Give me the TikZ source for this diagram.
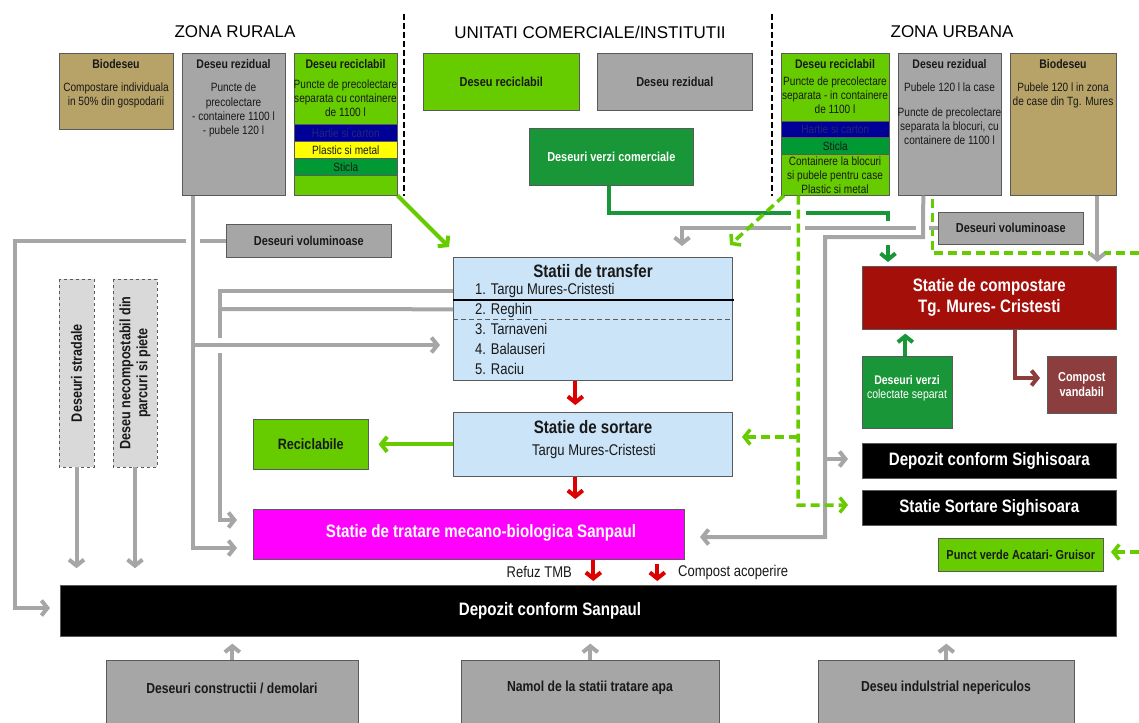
\documentclass[tikz,border=0pt]{standalone}
\usepackage{fontspec}
\setmainfont{Liberation Sans}[FakeStretch=0.84]
\newfontfamily\zonefont{Liberation Sans}
\usetikzlibrary{arrows.meta}

\definecolor{tanbox}{RGB}{183,162,104}
\definecolor{graybox}{RGB}{166,166,166}
\definecolor{limebox}{RGB}{102,204,0}
\definecolor{leafbox}{RGB}{25,150,55}
\definecolor{navyband}{RGB}{0,0,153}
\definecolor{navytext}{RGB}{35,40,110}
\definecolor{yellowband}{RGB}{255,255,0}
\definecolor{glassband}{RGB}{0,153,51}
\definecolor{skybox}{RGB}{204,228,247}
\definecolor{tmbpink}{RGB}{255,0,255}
\definecolor{compostred}{RGB}{165,15,10}
\definecolor{soilbrown}{RGB}{140,62,62}
\definecolor{flowred}{RGB}{220,0,0}
\definecolor{flowgray}{RGB}{166,166,166}
\definecolor{streetgray}{RGB}{217,217,217}
\definecolor{edgegray}{RGB}{90,90,90}
\definecolor{inkdark}{RGB}{25,25,25}

\tikzset{
  box/.style={draw=edgegray, line width=0.6pt, inner sep=0pt, anchor=north west},
  zone/.style={font=\zonefont\fontsize{17}{20}\selectfont, inner sep=0pt},
  head/.style={font=\fontsize{12.5}{14}\selectfont\bfseries, text=inkdark, inner sep=0pt},
  body/.style={font=\fontsize{12}{13.6}\selectfont, text=inkdark, align=center, inner sep=0pt, anchor=north},
  band/.style={box, minimum height=17pt, font=\fontsize{12}{13.6}\selectfont, text=inkdark},
  tag/.style={font=\fontsize{13}{15}\selectfont\bfseries, text=inkdark, align=center, inner sep=0pt},
  title/.style={font=\fontsize{18}{21}\selectfont\bfseries, text=inkdark, align=center, inner sep=0pt},
  item/.style={font=\fontsize{15.5}{18}\selectfont, text=inkdark, anchor=west, inner sep=0pt, text height=11pt, text depth=3pt},
  note/.style={font=\fontsize{15.5}{18}\selectfont, text=inkdark, inner sep=0pt},
  foot/.style={font=\fontsize{14.5}{17}\selectfont\bfseries, text=inkdark, inner sep=0pt},
  street/.style={draw=edgegray, dashed, fill=streetgray, rotate=90, inner sep=0pt, align=center, font=\fontsize{15}{17}\selectfont\bfseries, text=inkdark},
  sepline/.style={draw=black, line width=1.5pt, dash pattern=on 6pt off 3pt},
  grayline/.style={draw=flowgray, line width=4pt},
  grayflow/.style={grayline, -{Straight Barb[length=6pt,width=15pt]}},
  limeflow/.style={draw=limebox, line width=4pt, -{Straight Barb[length=6pt,width=15pt]}},
  limedash/.style={draw=limebox, line width=3.5pt, dash pattern=on 9pt off 5pt},
  limedashflow/.style={limedash, -{Straight Barb[length=6pt,width=15pt]}},
  leafflow/.style={draw=leafbox, line width=4pt, -{Straight Barb[length=6pt,width=15pt]}},
  soilflow/.style={draw=soilbrown, line width=4pt, -{Straight Barb[length=6pt,width=15pt]}},
  redflow/.style={draw=flowred, line width=4pt, -{Straight Barb[length=6pt,width=15pt]}},
  bridge/.style={draw=white, line width=6.5pt}
}

\begin{document}
\begin{tikzpicture}[x=1pt,y=-1pt]
			%%%%% START %%%%%
			\useasboundingbox (0,0) rectangle (1139,722);
			\clip (0,0) rectangle (1139,722);
			
			\node[zone] (zoneRural) at (235,32) {ZONA RURALA};
			\node[zone] (zoneComm) at (590,32) {UNITATI COMERCIALE/INSTITUTII};
			\node[zone] (zoneUrban) at (952,32) {ZONA URBANA};
			\draw[sepline] (404,14) -- (404,196);
			\draw[sepline] (772,14) -- (772,196);
			
			%%%%% RURAL %%%%%
			\node[box, fill=tanbox, minimum width=114pt, minimum height=76pt] (ruralBio) at (59,53) {};
			\node[head] (ruralBioH) at (116,64) {Biodeseu};
			\node[body] (ruralBioT) at (116,83) {Compostare individuala\\in 50\% din gospodarii};
			
			\node[box, fill=graybox, minimum width=103pt, minimum height=142pt] (ruralRez) at (182,53) {};
			\node[head] (ruralRezH) at (233.5,64) {Deseu rezidual};
			\node[body, font=\fontsize{12}{14.2}\selectfont] (ruralRezT) at (233.5,83) {Puncte de\\precolectare\\- containere 1100 l\\- pubele 120 l};
			
			\node[box, fill=limebox, minimum width=103pt, minimum height=142pt] (ruralRec) at (294,53) {};
			\node[head] (ruralRecH) at (345.5,64) {Deseu reciclabil};
			\node[body] (ruralRecT) at (345.5,80) {Puncte de precolectare\\separata cu containere\\de 1100 l};
			\node[band, minimum width=103pt, fill=navyband, text=navytext] (ruralPaper) at (294,124) {Hartie si carton};
			\node[band, minimum width=103pt, fill=yellowband] (ruralPlastic) at (294,141) {Plastic si metal};
			\node[band, minimum width=103pt, fill=glassband] (ruralGlass) at (294,158) {Sticla};
			
			%%%%% COMERCIAL %%%%%
			\node[box, fill=limebox, minimum width=156pt, minimum height=57pt, tag] (commRec) at (423,53) {Deseu reciclabil};
			\node[box, fill=graybox, minimum width=155pt, minimum height=57pt, tag] (commRez) at (597,53) {Deseu rezidual};
			\node[box, fill=leafbox, minimum width=164pt, minimum height=57pt, tag, text=white] (commGreen) at (529,128) {Deseuri verzi comerciale};
			
			%%%%% URBAN %%%%%
			\node[box, fill=limebox, minimum width=108pt, minimum height=142pt] (urbRec) at (781,53) {};
			\node[head] (urbRecH) at (835,64) {Deseu reciclabil};
			\node[body] (urbRecT) at (835,77) {Puncte de precolectare\\separata - in containere\\de 1100 l};
			\node[band, minimum width=108pt, minimum height=16pt, fill=navyband, text=navytext] (urbPaper) at (781,121) {Hartie si carton};
			\node[band, minimum width=108pt, fill=glassband] (urbGlass) at (781,137) {Sticla};
			\node[body] (urbRecB) at (835,157) {Containere la blocuri\\si pubele pentru case\\Plastic si metal};
			
			\node[box, fill=graybox, minimum width=103pt, minimum height=142pt] (urbRez) at (898,53) {};
			\node[head] (urbRezH) at (949.5,64) {Deseu rezidual};
			\node[body] (urbRezT) at (949.5,83) {Pubele 120 l la case};
			\node[body] (urbRezB) at (949.5,108) {Puncte de precolectare\\separata la blocuri, cu\\containere de 1100 l};
			
			\node[box, fill=tanbox, minimum width=106pt, minimum height=142pt] (urbBio) at (1010,53) {};
			\node[head] (urbBioH) at (1063,64) {Biodeseu};
			\node[body] (urbBioT) at (1063,83) {Pubele 120 l in zona\\de case din Tg. Mures};
			
			\node[box, fill=graybox, minimum width=165pt, minimum height=33pt, tag] (ruralVol) at (226,224) {Deseuri voluminoase};
			\node[box, fill=graybox, minimum width=145pt, minimum height=32pt, tag] (urbVol) at (938,212) {Deseuri voluminoase};
			
			\node[street, minimum width=188pt, minimum height=35pt] (streetBox) at (76.5,373) {Deseuri stradale};
			\node[street, minimum width=188pt, minimum height=44pt] (parkBox) at (135,373) {Deseu necompostabil din\\parcuri si piete};
			
			%%%%% STATII %%%%%
			\node[box, fill=skybox, minimum width=279pt, minimum height=123pt] (transfer) at (453,257) {};
			\node[title] (transferH) at (593,271) {Statii de transfer};
			\node[item] (stop1) at (475,290) {1. Targu Mures-Cristesti};
			\node[item] (stop2) at (475,310) {2. Reghin};
			\node[item] (stop3) at (475,330) {3. Tarnaveni};
			\node[item] (stop4) at (475,350) {4. Balauseri};
			\node[item] (stop5) at (475,370) {5. Raciu};
			\draw[black, line width=1.3pt] (453,300) -- (734,300);
			\draw[edgegray, line width=0.7pt, dash pattern=on 5pt off 3pt] (453,319) -- (732,319);
			
			\node[box, fill=skybox, minimum width=279pt, minimum height=64pt] (sortare) at (453,412) {};
			\node[title] (sortareH) at (593,427) {Statie de sortare};
			\node[item, anchor=center] (sortareT) at (594,451) {Targu Mures-Cristesti};
			
			\node[box, fill=limebox, minimum width=115pt, minimum height=50pt, tag, font=\fontsize{15}{17}\selectfont\bfseries] (recyclables) at (253,419) {Reciclabile};
			
			\node[box, fill=tmbpink, minimum width=431pt, minimum height=50pt] (tmb) at (253,509) {};
			\node[title, text=white] (tmbT) at (481,533) {Statie de tratare mecano-biologica Sanpaul};
			\node[note, anchor=east] (refuz) at (572,572) {Refuz TMB};
			\node[note, anchor=west] (acoperire) at (678,572) {Compost acoperire};
			
			\node[box, fill=black, minimum width=1056pt, minimum height=51pt] (depozit) at (60,585) {};
			\node[title, text=white] (depozitT) at (550,611) {Depozit conform Sanpaul};
			
			\node[box, fill=graybox, minimum width=252pt, minimum height=70pt] (constr) at (106,660) {};
			\node[foot] (constrT) at (232,688) {Deseuri constructii / demolari};
			\node[box, fill=graybox, minimum width=258pt, minimum height=70pt] (namol) at (461,660) {};
			\node[foot] (namolT) at (590,688) {Namol de la statii tratare apa};
			\node[box, fill=graybox, minimum width=256pt, minimum height=70pt] (indus) at (818,660) {};
			\node[foot] (indusT) at (946,688) {Deseu indulstrial nepericulos};
			
			%%%%% DREAPTA %%%%%
			\node[box, fill=compostred, minimum width=254pt, minimum height=63pt, title, text=white] (compost) at (862,266) {Statie de compostare\\Tg. Mures- Cristesti};
			\node[box, fill=leafbox, minimum width=90pt, minimum height=72pt] (greenSep) at (862,356) {};
			\node[tag, text=white, font=\fontsize{12.5}{14}\selectfont\bfseries] (greenSepH) at (907,380) {Deseuri verzi};
			\node[tag, text=white, font=\fontsize{12.5}{14}\selectfont] (greenSepT) at (907,395) {colectate separat};
			\node[box, fill=soilbrown, minimum width=69pt, minimum height=57pt, tag, text=white] (vandabil) at (1047,356) {Compost\\vandabil};
			\node[box, fill=black, minimum width=254pt, minimum height=35pt, title, text=white] (depSig) at (862,443) {Depozit conform Sighisoara};
			\node[box, fill=black, minimum width=254pt, minimum height=35pt, title, text=white] (sortSig) at (862,490) {Statie Sortare Sighisoara};
			\node[box, fill=limebox, minimum width=165pt, minimum height=33pt, tag] (punct) at (938,538) {Punct verde Acatari- Gruisor};
			
			%%%%% LEGATURI %%%%%
			\coordinate (leftRail) at (15,608);
			\coordinate (depIn) at (50,608);
			\coordinate (tmbRail) at (220,520);
			\coordinate (tmbInB) at (237,520);
			\coordinate (railJoin) at (218,309);
			\coordinate (leafCorner) at (888,213);
			\coordinate (compIn) at (888,262);
			\coordinate (trInC) at (682,246);
			\coordinate (edgeRight) at (1139,253);
			
			\draw[grayflow] (ruralVol.west) -| (leftRail) -- (depIn);
			\draw[grayflow] ([yshift=27.5pt]transfer.west) -| (tmbRail) -- (tmbInB);
			\draw[grayline] ([yshift=9.5pt]transfer.west) -- (railJoin);
			\draw[leafflow] ([xshift=-2pt]commGreen.south) |- (leafCorner) -- (compIn);
			\draw[limedash] (edgeRight) -| ([xshift=-17.5pt]urbRez.south);
			
			\draw[bridge] (186,240.5) -- (200,240.5);
			\draw[bridge] (220,338) -- (220,353);
			\draw[bridge] (791,213) -- (806,213);
			\draw[bridge] (888,221) -- (888,245);
			\draw[bridge] (1090,253) -- (1104,253);
			
			\draw[grayflow] (urbVol.west) -| (trInC);
			\draw[bridge] (791,228) -- (805,228);
			\draw[bridge] (916,228) -- (929,228);
			
			\coordinate (tmbInA) at (237,548);
			\coordinate (ruralFork) at (193,345);
			\coordinate (trInA) at (440,345);
			\draw[grayflow] ([xshift=-40.5pt]ruralRez.south) |- (tmbInA);
			\draw[grayflow] (ruralFork) -- (trInA);
			\draw[limeflow] (ruralRec.south east) -- (449,247);
			
			\coordinate (rezCorner) at (923,237);
			\coordinate (rezRail) at (825,237);
			\coordinate (tmbInC) at (700,537);
			\coordinate (rezFork) at (825,459);
			\coordinate (sigIn) at (848,459);
			\draw[grayflow] ([xshift=-26.5pt]urbRez.south) -- (rezCorner) -- (rezRail) |- (tmbInC);
			\draw[grayflow] (rezFork) -- (sigIn);
			
			\coordinate (limeRail) at (798,505);
			\coordinate (sortSigIn) at (848,505);
			\coordinate (limeFork) at (798,437);
			\coordinate (sortIn) at (742,437);
			\coordinate (trInD) at (730,245);
			\draw[limedashflow] ([xshift=-37pt]urbRec.south) -- (limeRail) -- (sortSigIn);
			\draw[limedashflow] (limeFork) -- (sortIn);
			\draw[limedashflow] ([xshift=3pt]urbRec.south west) -- (trInD);
			
			\draw[grayflow, shorten >=4pt] ([xshift=34pt]urbBio.south) -- ([xshift=108pt]compost.north);
			\draw[leafflow, shorten >=4pt] ([xshift=-2pt]greenSep.north) -- ([xshift=-84pt]compost.south);
			\coordinate (soilIn) at (1040,378);
			\draw[soilflow] ([xshift=26pt]compost.south) |- (soilIn);
			\coordinate (edgeRightB) at (1139,552);
			\coordinate (punctIn) at (1111,552);
			\draw[limedashflow] (edgeRightB) -- (punctIn);
			
			\draw[limeflow, shorten >=10pt] (sortare.west) -- (recyclables.east);
			\draw[redflow, shorten >=7pt] ([xshift=-17.5pt]transfer.south) -- ([xshift=-17.5pt]sortare.north);
			\draw[redflow, shorten >=10pt] ([xshift=-17.5pt]sortare.south) -- ([xshift=106.5pt]tmb.north);
			\draw[redflow, shorten >=4pt] ([xshift=124.5pt]tmb.south) -- ([xshift=5pt]depozit.north);
			\draw[redflow, shorten >=4pt] ([xshift=188.5pt, yshift=-4pt]tmb.south) -- ([xshift=69pt]depozit.north);
			
			\draw[grayflow] (streetBox.west) -- ++(0,101);
			\draw[grayflow] (parkBox.west) -- ++(0,101);
			\draw[grayflow, shorten >=7pt] (constr.north) -- (constr.north |- depozit.south);
			\draw[grayflow, shorten >=7pt] (namol.north) -- (namol.north |- depozit.south);
			\draw[grayflow, shorten >=7pt] (indus.north) -- (indus.north |- depozit.south);
			%%%%% END %%%%%
\end{tikzpicture}
\end{document}
